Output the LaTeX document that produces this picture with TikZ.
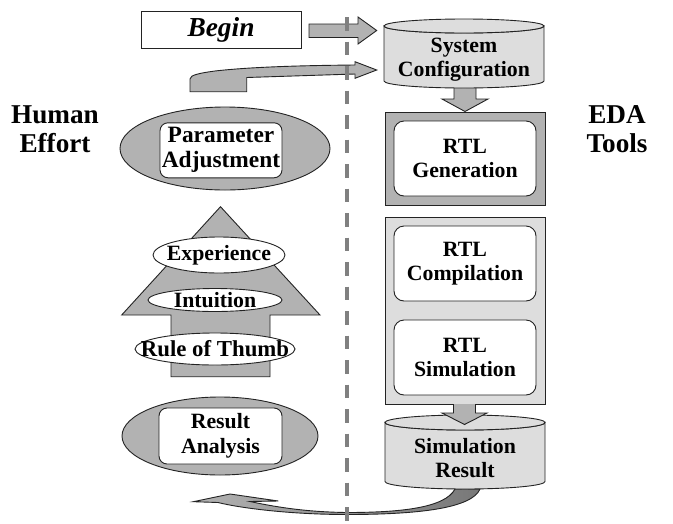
\documentclass[tikz,border=0pt]{standalone}
\usepackage{fontspec}
\setmainfont{Liberation Serif}
\usetikzlibrary{shapes.geometric}
\definecolor{dg}{RGB}{178,178,178}
\definecolor{lg}{RGB}{221,221,221}
\definecolor{ol}{RGB}{35,35,35}
\definecolor{dl}{RGB}{128,128,128}
\definecolor{dk}{RGB}{120,120,120}
\begin{document}
\begin{tikzpicture}[x=1pt,y=-1pt,line join=miter,
  shp/.style={draw=ol,line width=0.9pt},
  txt/.style={font=\fontsize{21.8pt}{24.5pt}\selectfont\bfseries,align=center,inner sep=0pt},
  bigtxt/.style={font=\fontsize{27.2pt}{28.5pt}\selectfont\bfseries,align=center,inner sep=0pt},
  inbox/.style={shp,fill=white,rounded corners=10pt,inner sep=0pt,
    font=\fontsize{21.8pt}{24.5pt}\selectfont\bfseries,align=center},
  elln/.style={shp,ellipse,inner sep=0pt},
  bigell/.style={shp,ellipse,fill=dg,inner sep=0pt}
]
\fill[white] (0,0) rectangle (673,523);
\useasboundingbox (0,0) rectangle (673,523);

% Begin
\node[shp,fill=white,minimum width=160pt,minimum height=37pt,inner sep=0pt,
  font=\fontsize{27.4pt}{30pt}\selectfont\bfseries\itshape] (begin) at (221,29.5) {Begin};
\path[shp,fill=dg] (309,24) -- (358,24) -- (358,17) -- (376.7,30.5) -- (358,44)
  -- (358,37.5) -- (309,37.5) -- cycle;

% bent arrow
\path[shp,fill=dg] (190,91.7) -- (190,79) .. controls (190,75) and (200,73) .. (215,71)
  .. controls (250,67) and (300,65.5) .. (355,65) -- (355,61.7) -- (376.7,70)
  -- (355,78.3) -- (355,74) -- (246.7,77.5) -- (246.7,91.7) -- cycle;

% down arrow 1
\path[shp,fill=dg] (454,84) -- (454,99) -- (442,99) -- (465,111.5) -- (488,99)
  -- (476,99) -- (476,84);

% cylinder 1
\path[shp,fill=lg] (384,26) -- (384,81) arc[start angle=180,end angle=0,x radius=80,y radius=7]
  -- (544,26) arc[start angle=0,end angle=180,x radius=80,y radius=7] -- cycle;
\draw[shp,fill=lg] (464,26) ellipse[x radius=80,y radius=7];
\node[txt] (sys) at (464,59.5) {System\\Configuration};

% RTL generation
\node[shp,fill=dg,minimum width=160pt,minimum height=93pt,inner sep=0pt] (genouter) at (465,158.5) {};
\node[inbox,minimum width=142pt,minimum height=75pt] (gen) at (465,158.5) {RTL\\Generation};

% compile + simulate
\node[shp,fill=lg,minimum width=160pt,minimum height=187pt,inner sep=0pt] (csouter) at (465,310.5) {};
\node[inbox,minimum width=142pt,minimum height=75pt] (comp) at (465,263.5) {RTL\\Compilation};
\node[inbox,minimum width=142pt,minimum height=75pt] (sim) at (465,357.5) {RTL\\Simulation};

% bottom curved arrow
\path[shp,left color=dg,right color=dk] (193.3,501.7) -- (230,494) -- (278.3,501) -- (250,501.5)
  .. controls (280,508) and (310,512) .. (346.7,512.5)
  .. controls (400,512.5) and (445,508) .. (455,489)
  -- (480,489) .. controls (472,508) and (420,514.5) .. (346.7,514.5)
  .. controls (290,514.5) and (240,508) .. (218,502.5) -- cycle;

% cylinder 2
\path[shp,fill=lg] (385,422.5) -- (385,481.5) arc[start angle=180,end angle=0,x radius=80,y radius=7.5]
  -- (545,422.5) arc[start angle=0,end angle=180,x radius=80,y radius=7.5] -- cycle;
\draw[shp,fill=lg] (465,422.5) ellipse[x radius=80,y radius=7.5];
\node[txt] (res) at (465,458) {Simulation\\Result};

% down arrow 2
\path[shp,fill=dg] (453.5,404) -- (453.5,413) -- (442,413) -- (464.5,424.5) -- (487,413)
  -- (475.5,413) -- (475.5,404);

% left: parameter adjustment
\node[bigell,minimum width=210pt,minimum height=83pt] (pell) at (225,148.5) {};
\node[inbox,rounded corners=8pt,minimum width=122pt,minimum height=55pt,
  font=\fontsize{23.4pt}{25pt}\selectfont\bfseries] (par) at (221,150.3) {Parameter\\Adjustment};

% big up arrow
\path[shp,fill=dg] (220.5,206.7) -- (320,315) -- (270,315) -- (270,376.7) -- (171,376.7)
  -- (171,315) -- (121.7,315) -- cycle;
\node[elln,fill=white,minimum width=132pt,minimum height=36pt,
  label={[txt]center:Experience}] (exp) at (219,255) {};
\node[elln,fill=white,minimum width=134pt,minimum height=23pt,
  label={[txt]center:Intuition}] (int) at (215,300) {};
\node[elln,fill=white,minimum width=160pt,minimum height=32pt,
  label={[txt,font=\fontsize{22.8pt}{24.5pt}\selectfont\bfseries]center:Rule of Thumb}] (rot) at (215,349) {};

% result analysis
\node[bigell,minimum width=196pt,minimum height=78pt] (rell) at (220,436) {};
\node[inbox,rounded corners=8pt,minimum width=123pt,minimum height=56pt] (ana) at (220.5,436) {Result\\Analysis};

% side labels
\node[bigtxt] (human) at (55,129) {Human\\Effort};
\node[bigtxt] (eda) at (617,129) {EDA\\Tools};

% dashed divider
\coordinate (dtop) at (347,17);
\coordinate (dbot) at (347,523);
\draw[dl,line width=4pt,dash pattern=on 13.5pt off 11pt] (dtop) -- (dbot);
\end{tikzpicture}
\end{document}
